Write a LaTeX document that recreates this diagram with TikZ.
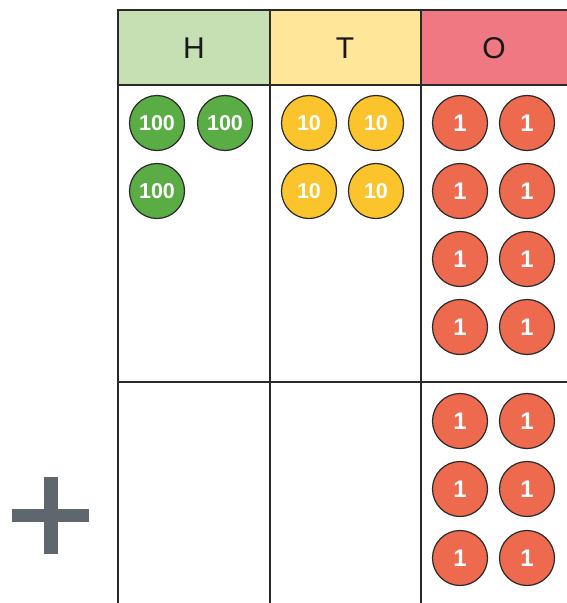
\documentclass[tikz,border=0pt]{standalone}
\usepackage{fontspec}
\setmainfont{Liberation Sans}
\definecolor{hgreen}{HTML}{C6E0B4}
\definecolor{hyellow}{HTML}{FFE699}
\definecolor{hred}{HTML}{F07882}
\definecolor{cgreen}{HTML}{5AAC44}
\definecolor{cyellow}{HTML}{FCC42C}
\definecolor{cred}{HTML}{EE6A4F}
\definecolor{gridc}{HTML}{2A2A2A}
\definecolor{plusc}{HTML}{5F666D}
\tikzset{
  gridline/.style={draw=gridc, line width=2pt},
  counter/.style={circle, draw=gridc, line width=1.2pt, minimum size=55pt, inner sep=0pt, text=white, font=\bfseries},
  hund/.style={counter, fill=cgreen, font=\bfseries\fontsize{21.5}{21.5}\selectfont},
  tens/.style={counter, fill=cyellow, font=\bfseries\fontsize{21.5}{21.5}\selectfont},
  ones/.style={counter, fill=cred, font=\bfseries\fontsize{24}{24}\selectfont},
  headtext/.style={font=\fontsize{30}{30}\selectfont, text=black!90}
}
\begin{document}
\begin{tikzpicture}[x=1pt,y=-1pt]
\useasboundingbox (0,0) rectangle (567,603);
\begin{scope}
\clip (0,0) rectangle (567,603);
% header fills
\fill[hgreen] (118,10) rectangle (270,85);
\fill[hyellow] (270,10) rectangle (421,85);
\fill[hred] (421,10) rectangle (580,85);
% grid
\draw[gridline] (117,10) -- (580,10);
\draw[gridline] (118,85) -- (580,85);
\draw[gridline] (118,382) -- (580,382);
\draw[gridline] (118,9) -- (118,610);
\draw[gridline] (270,9) -- (270,610);
\draw[gridline] (421,9) -- (421,610);
\end{scope}
% header labels
\node[headtext] (hH) at (194,48) {H};
\node[headtext] (hT) at (345,48) {T};
\node[headtext] (hO) at (494,48) {O};
% hundreds
\node[hund] (h1) at (157,123) {100};
\node[hund] (h2) at (225,123) {100};
\node[hund] (h3) at (157,191) {100};
% tens
\node[tens] (t1) at (309,123) {10};
\node[tens] (t2) at (376,123) {10};
\node[tens] (t3) at (309,191) {10};
\node[tens] (t4) at (376,191) {10};
% ones top
\node[ones] (o1) at (460,123) {1};
\node[ones] (o2) at (527,123) {1};
\node[ones] (o3) at (460,191) {1};
\node[ones] (o4) at (527,191) {1};
\node[ones] (o5) at (460,259) {1};
\node[ones] (o6) at (527,259) {1};
\node[ones] (o7) at (460,327) {1};
\node[ones] (o8) at (527,327) {1};
% ones bottom
\node[ones] (p1) at (460,421) {1};
\node[ones] (p2) at (527,421) {1};
\node[ones] (p3) at (460,489) {1};
\node[ones] (p4) at (527,489) {1};
\node[ones] (p5) at (460,558) {1};
\node[ones] (p6) at (527,558) {1};
% plus sign
\fill[plusc] (12,509) rectangle (89,522);
\fill[plusc] (44,477) rectangle (58,554);
\end{tikzpicture}
\end{document}
